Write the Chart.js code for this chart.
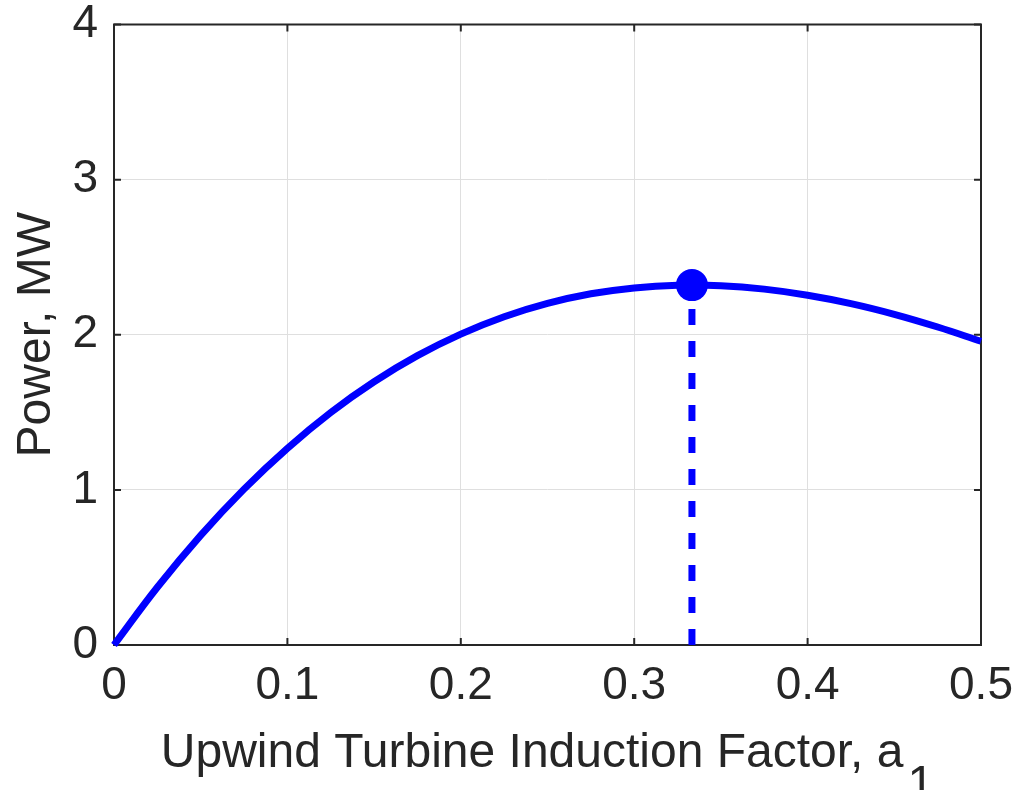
<!DOCTYPE html>
<html>
<head>
<meta charset="utf-8">
<script src="https://cdn.jsdelivr.net/npm/chart.js@4.4.1/dist/chart.umd.min.js"></script>
<style>
  html, body { margin: 0; padding: 0; background: #ffffff; }
  #wrap { width: 1029px; height: 790px; }
</style>
</head>
<body>
<div id="wrap"><canvas id="c" width="1029" height="790"></canvas></div>
<script>
// ---- data ----
const inductionFactor = [0, 0.025, 0.05, 0.075, 0.1, 0.125, 0.15, 0.175, 0.2, 0.225, 0.25,
                         0.275, 0.3, 0.325, 0.35, 0.375, 0.4, 0.425, 0.45, 0.475, 0.5];
const powerMW = [0, 0.372, 0.707, 1.005, 1.268, 1.499, 1.697, 1.865, 2.004, 2.116, 2.202,
                 2.264, 2.302, 2.319, 2.316, 2.294, 2.255, 2.201, 2.132, 2.050, 1.958];
const optimumA = 0.3333;
const optimumP = 2.32;
const xTickValues = [0, 0.1, 0.2, 0.3, 0.4, 0.5];
const xTickLabels = ['0', '0.1', '0.2', '0.3', '0.4', '0.5'];
const yTickValues = [0, 1, 2, 3, 4];
const yTickLabels = ['0', '1', '2', '3', '4'];
const xTitleMain = 'Upwind Turbine Induction Factor, a';
const xTitleSub = '1';
const yTitle = 'Power, MW';

const FONT = "'Liberation Sans', Arial, Helvetica, sans-serif";
const TEXT = '#262626';
const AXIS = '#262626';
const BLUE = '#0000ff';

const curve = inductionFactor.map((a, i) => ({ x: a, y: powerMW[i] }));

const frame = {
  id: 'frame',
  beforeDatasetsDraw(chart) {
    const { ctx, chartArea: ca, scales } = chart;
    ctx.save();
    ctx.strokeStyle = AXIS;
    ctx.lineWidth = 2;
    ctx.strokeRect(ca.left, ca.top, ca.right - ca.left, ca.bottom - ca.top);
    const tl = 7;
    ctx.beginPath();
    xTickValues.forEach(v => {
      const px = scales.x.getPixelForValue(v);
      ctx.moveTo(px, ca.bottom); ctx.lineTo(px, ca.bottom - tl);
      ctx.moveTo(px, ca.top); ctx.lineTo(px, ca.top + tl);
    });
    yTickValues.forEach(v => {
      const py = scales.y.getPixelForValue(v);
      ctx.moveTo(ca.left, py); ctx.lineTo(ca.left + tl, py);
      ctx.moveTo(ca.right, py); ctx.lineTo(ca.right - tl, py);
    });
    ctx.stroke();
    ctx.restore();
  },
  afterDraw(chart) {
    const { ctx, chartArea: ca } = chart;
    ctx.save();
    ctx.font = '48px ' + FONT;
    ctx.fillStyle = TEXT;
    ctx.textBaseline = 'alphabetic';
    ctx.textAlign = 'left';
    const wMain = ctx.measureText(xTitleMain).width;
    const wSub = ctx.measureText(xTitleSub).width;
    const gap = 4;
    const total = wMain + gap + wSub;
    const cx = (ca.left + ca.right) / 2;
    const x0 = cx - total / 2;
    ctx.fillText(xTitleMain, x0, 767);
    ctx.fillText(xTitleSub, x0 + wMain + gap, 799);
    ctx.restore();
  }
};

new Chart(document.getElementById('c'), {
  type: 'scatter',
  data: {
    datasets: [
      {
        data: [{ x: optimumA, y: 0 }, { x: optimumA, y: optimumP }],
        showLine: true,
        borderColor: BLUE,
        borderWidth: 7,
        borderDash: [16, 16],
        borderCapStyle: 'butt',
        pointRadius: 0,
        clip: false,
        order: 3
      },
      {
        data: curve,
        showLine: true,
        borderColor: BLUE,
        borderWidth: 7,
        tension: 0.4,
        pointRadius: 0,
        clip: false,
        order: 2
      },
      {
        data: [{ x: optimumA, y: optimumP }],
        showLine: false,
        pointRadius: 16,
        pointBackgroundColor: BLUE,
        pointBorderWidth: 0,
        clip: false,
        order: 1
      }
    ]
  },
  options: {
    responsive: false,
    animation: false,
    devicePixelRatio: 1,
    layout: { padding: { top: 24.5, right: 48, left: 0, bottom: 0 } },
    plugins: { legend: { display: false }, tooltip: { enabled: false } },
    scales: {
      x: {
        type: 'linear',
        min: 0, max: 0.5,
        afterBuildTicks(scale) { scale.ticks = xTickValues.map(v => ({ value: v })); },
        afterFit(scale) { scale.height = 145; scale.paddingLeft = 0; scale.paddingRight = 0; },
        ticks: {
          callback: (v, i) => xTickLabels[i],
          font: { size: 46, family: FONT },
          color: TEXT,
          padding: 14,
          maxRotation: 0,
          autoSkip: false
        },
        grid: { color: '#dfdfdf', lineWidth: 1, drawTicks: false },
        border: { display: false }
      },
      y: {
        type: 'linear',
        min: 0, max: 4,
        afterBuildTicks(scale) { scale.ticks = yTickValues.map(v => ({ value: v })); },
        afterFit(scale) { scale.width = 114; scale.paddingTop = 0; scale.paddingBottom = 0; },
        ticks: {
          callback: (v, i) => yTickLabels[i],
          font: { size: 46, family: FONT },
          color: TEXT,
          padding: 16,
          autoSkip: false
        },
        title: {
          display: true,
          text: yTitle,
          font: { size: 48, family: FONT },
          color: TEXT,
          padding: { top: 8, bottom: 0 }
        },
        grid: { color: '#dfdfdf', lineWidth: 1, drawTicks: false },
        border: { display: false }
      }
    }
  },
  plugins: [frame]
});
</script>
</body>
</html>
